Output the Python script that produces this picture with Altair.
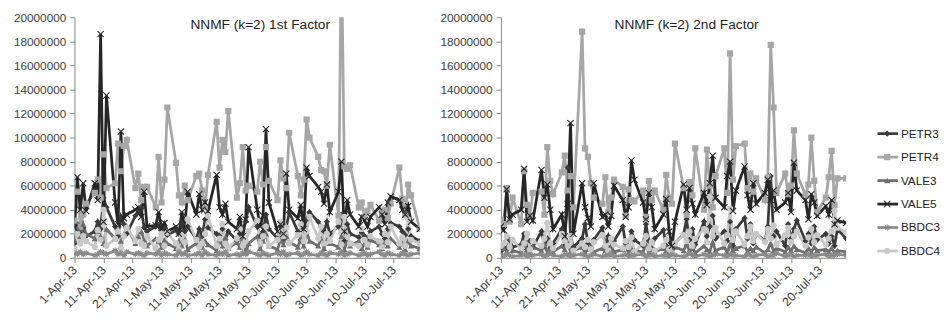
import altair as alt
import pandas as pd

SERIES = ["PETR3", "PETR4", "VALE3", "VALE5", "BBDC3", "BBDC4"]
COLORS = ["#3a3a3a", "#a6a6a6", "#6e6e6e", "#262626", "#8a8a8a", "#c8c8c8"]
X_PATH = "M-1,-1L1,1M-1,1L1,-1"
STAR_PATH = "M-1,0L1,0M0,-1L0,1M-0.7,-0.7L0.7,0.7M-0.7,0.7L0.7,-0.7"
SHAPES = ["diamond", "square", "triangle-up", X_PATH, STAR_PATH, "circle"]
FILLED = ["PETR3", "PETR4", "VALE3", "BBDC4"]
OPEN = ["VALE5", "BBDC3"]

# trading days 1-Apr-13 .. 29-Jul-13
DATES = pd.bdate_range("2013-04-01", "2013-07-29").strftime("%Y-%m-%dT00:00:00").tolist()
TICK_DAYS = [(4, 1), (4, 11), (4, 21), (5, 1), (5, 11), (5, 21), (5, 31),
             (6, 10), (6, 20), (6, 30), (7, 10), (7, 20)]
Y_TICKS = [0, 2000000, 4000000, 6000000, 8000000, 10000000, 12000000,
           14000000, 16000000, 18000000, 20000000]

# values in millions
f1_petr3 = [1.2, 2.8, 2.0, 2.5, 1.8, 2.2, 3.0, 2.4, 5.0, 4.2,
            2.6, 1.8, 3.4, 2.8, 2.0, 3.5, 3.8, 4.1, 2.5, 2.2,
            2.6, 2.7, 2.0, 2.5, 1.9, 2.3, 2.0, 2.8, 2.2, 2.6,
            1.6, 2.4, 1.8, 3.2, 2.5, 2.0, 1.8, 2.4, 1.5, 2.2,
            1.4, 2.0, 2.4, 3.0, 4.2, 2.6, 1.8, 2.2, 3.6, 2.4,
            1.6, 2.6, 1.6, 2.5, 3.8, 2.2, 1.5, 2.4, 3.2, 3.8,
            3.0, 2.6, 2.2, 3.0, 2.0, 2.6, 3.6, 1.4, 2.8, 2.0,
            1.7, 2.1, 1.8, 1.6, 2.2, 2.6, 2.0, 1.6, 2.4, 2.9,
            2.6, 2.2, 1.9, 2.4, 1.8, 1.4]
f1_petr4 = [3.1, 5.5, 2.6, 3.6, 4.5, 5.4, 6.5, 5.0, 8.6, 5.8,
            6.2, 9.5, 7.2, 9.3, 9.8, 5.8, 7.0, 4.8, 5.9, 5.9,
            4.2, 8.4, 4.6, 6.5, 12.5, 7.9, 5.2, 4.6, 6.0, 4.8,
            6.8, 7.0, 5.6, 4.2, 6.9, 11.3, 7.5, 9.8, 8.8, 12.2,
            5.0, 6.2, 9.2, 5.6, 6.0, 5.5, 8.0, 6.1, 9.2, 6.4,
            4.8, 8.1, 6.6, 5.8, 10.4, 6.8, 5.2, 6.5, 11.5, 10.0,
            8.4, 7.3, 7.2, 6.0, 9.4, 3.5, 26.0, 7.6, 7.4, 7.7,
            4.2, 4.6, 3.4, 3.9, 4.4, 3.1, 3.8, 4.0, 3.3, 4.5,
            7.5, 4.9, 3.6, 6.1, 5.2, 2.4]
f1_vale3 = [1.5, 2.4, 1.8, 2.8, 2.0, 1.6, 2.2, 1.8, 1.2, 2.4,
            1.6, 2.2, 1.4, 1.9, 2.6, 1.2, 1.8, 2.2, 1.5, 1.0,
            1.6, 1.4, 0.9, 1.5, 1.2, 0.8, 1.4, 1.0, 1.6, 0.7,
            1.2, 1.8, 0.9, 1.4, 1.1, 0.6, 1.5, 1.0, 1.7, 0.8,
            1.3, 0.9, 1.6, 0.4, 1.2, 1.8, 0.8, 1.4, 2.0, 1.0,
            0.7, 1.5, 1.1, 1.8, 1.3, 0.9, 1.6, 1.0, 2.2, 1.4,
            1.0, 1.6, 0.8, 1.5, 1.2, 0.9, 1.8, 0.7, 1.3, 1.0,
            1.4, 0.8, 1.2, 0.9, 1.5, 1.1, 0.8, 1.3, 1.0, 1.6,
            0.9, 1.2, 0.7, 1.4, 1.0, 0.8]
f1_vale5 = [2.5, 6.7, 4.0, 6.2, 3.9, 6.2, 4.8, 18.6, 3.0, 13.5,
            4.6, 2.8, 10.5, 3.3, 3.6, 4.0, 4.2, 3.4, 5.5, 2.6,
            2.7, 3.8, 2.5, 2.9, 2.2, 2.6, 2.0, 3.8, 2.5, 5.5,
            3.6, 5.3, 4.0, 4.6, 3.9, 6.9, 4.2, 3.6, 4.5, 3.0,
            2.4, 3.4, 1.8, 3.2, 9.2, 4.0, 2.6, 3.5, 10.7, 4.6,
            2.2, 2.8, 2.0, 7.0, 4.0, 3.3, 4.4, 2.4, 7.5, 6.8,
            5.9, 5.5, 4.5, 6.1, 3.8, 5.5, 8.0, 2.2, 4.8, 3.6,
            2.6, 3.4, 3.1, 2.6, 3.4, 4.2, 3.6, 2.8, 4.6, 5.1,
            4.8, 4.0, 3.6, 4.3, 3.0, 2.4]
f1_bbdc3 = [0.4, 0.3, 0.5, 0.3, 0.4, 0.2, 0.3, 0.5, 0.4, 0.3,
            0.6, 0.3, 0.4, 0.2, 0.5, 0.3, 0.4, 0.3, 0.2, 0.4,
            0.3, 0.5, 0.2, 0.4, 0.3, 0.2, 0.5, 0.3, 0.4, 0.2,
            0.3, 0.4, 0.2, 0.5, 0.3, 0.2, 0.4, 0.3, 0.5, 0.2,
            0.3, 0.2, 0.4, 0.3, 0.5, 0.3, 0.2, 0.4, 0.3, 0.2,
            0.4, 0.3, 0.5, 0.2, 0.3, 0.4, 0.2, 0.3, 0.5, 0.3,
            0.2, 0.4, 0.3, 0.2, 0.4, 0.3, 0.5, 0.2, 0.3, 0.4,
            0.2, 0.3, 0.4, 0.2, 0.3, 0.5, 0.3, 0.2, 0.4, 0.3,
            0.2, 0.4, 0.3, 0.2, 0.3, 0.4]
f1_bbdc4 = [0.8, 2.0, 1.2, 1.8, 1.4, 0.9, 2.3, 1.5, 4.0, 1.0,
            1.6, 2.2, 0.8, 1.8, 2.5, 1.4, 2.4, 1.2, 1.0, 1.8,
            0.8, 1.5, 2.0, 1.0, 2.1, 1.2, 0.7, 1.8, 1.3, 3.2,
            1.5, 0.9, 1.2, 2.0, 3.5, 1.0, 1.6, 2.8, 1.2, 0.8,
            1.6, 2.4, 1.0, 1.4, 2.2, 3.1, 1.2, 1.8, 2.6, 1.0,
            1.5, 3.0, 1.8, 2.5, 1.2, 1.9, 2.8, 1.4, 2.2, 3.4,
            1.6, 2.6, 1.2, 2.0, 1.4, 3.0, 1.1, 3.4, 1.8, 1.2,
            1.0, 2.4, 1.5, 1.1, 1.8, 1.4, 0.9, 2.0, 1.3, 2.6,
            1.2, 1.7, 1.0, 3.2, 1.5, 1.2]

f2_petr3 = [0.6, 1.2, 0.8, 1.5, 0.9, 1.1, 2.0, 0.7, 1.4, 0.9,
            2.2, 1.0, 1.6, 0.8, 1.2, 2.4, 1.0, 7.5, 1.8, 0.9,
            1.6, 2.8, 1.2, 0.8, 1.5, 2.5, 1.0, 1.8, 0.9, 1.4,
            2.6, 1.2, 0.8, 2.2, 1.5, 1.0, 2.8, 1.4, 0.8, 1.6,
            2.3, 1.0, 1.4, 0.7, 1.2, 2.0, 3.2, 1.5, 2.4, 1.1,
            3.0, 1.8, 2.6, 3.5, 1.6, 2.2, 1.4, 3.0, 1.0, 2.4,
            3.3, 1.6, 2.8, 1.2, 2.0, 1.4, 2.6, 6.8, 1.8, 2.2,
            1.0, 2.8, 1.6, 2.4, 3.1, 1.4, 2.0, 1.2, 2.6, 1.5,
            2.0, 1.2, 1.8, 1.0, 2.4, 1.6]
f2_petr4 = [3.2, 2.8, 5.8, 3.0, 5.0, 2.8, 7.2, 4.4, 3.5, 5.4,
            5.5, 3.6, 9.2, 6.4, 5.3, 7.1, 8.5, 5.6, 6.8, 4.2,
            18.8, 9.1, 8.4, 6.2, 5.0, 4.5, 6.7, 3.8, 5.0, 6.5,
            5.9, 3.5, 5.7, 4.8, 4.7, 5.6, 3.4, 6.4, 4.8, 5.6,
            4.0, 6.9, 5.0, 4.5, 9.5, 5.8, 3.6, 6.3, 5.2, 9.1,
            4.0, 9.0, 6.0, 4.2, 6.8, 9.1, 5.4, 17.0, 6.5, 9.3,
            9.5, 5.8, 7.0, 5.5, 6.6, 4.8, 6.7, 17.7, 12.5, 5.4,
            7.0, 5.3, 6.0, 10.6, 7.0, 5.2, 6.1, 10.0, 6.4, 3.8,
            5.0, 6.7, 8.9, 4.4, 6.6, 6.6]
f2_vale3 = [0.3, 0.8, 0.5, 1.0, 0.6, 0.4, 1.2, 0.7, 0.5, 0.9,
            0.6, 1.1, 0.4, 0.8, 0.5, 1.0, 0.7, 1.3, 0.5, 0.6,
            0.9, 0.4, 0.7, 1.0, 0.5, 0.8, 0.6, 0.3, 0.9, 0.5,
            0.7, 1.0, 0.4, 0.8, 0.6, 0.5, 1.1, 0.4, 0.7, 0.5,
            0.8, 0.6, 0.3, 0.5, 0.9, 0.6, 1.2, 0.5, 0.8, 0.4,
            1.0, 0.7, 0.5, 1.3, 0.6, 0.9, 0.4, 1.1, 0.6, 0.8,
            1.0, 0.5, 0.8, 0.6, 0.9, 0.4, 0.7, 1.2, 0.6, 0.8,
            0.5, 0.9, 0.6, 1.0, 0.7, 0.4, 0.8, 0.5, 0.9, 0.6,
            0.7, 0.5, 0.8, 0.4, 0.6, 0.5]
f2_vale5 = [2.6, 2.3, 5.7, 3.2, 3.6, 4.0, 7.4, 3.0, 3.5, 3.1,
            7.3, 5.0, 6.1, 4.0, 2.4, 3.6, 1.8, 4.5, 11.2, 2.0,
            6.2, 4.2, 3.3, 2.6, 6.2, 3.4, 3.6, 2.6, 3.5, 6.0,
            4.8, 3.4, 4.2, 8.1, 6.5, 4.6, 3.2, 5.4, 4.2, 2.4,
            3.6, 4.9, 2.2, 1.0, 3.0, 6.1, 4.0, 5.8, 4.5, 3.6,
            5.4, 4.4, 6.2, 8.5, 5.0, 4.2, 6.8, 8.0, 3.9, 5.6,
            7.6, 5.2, 4.0, 6.2, 4.5, 5.4, 6.5, 4.8, 5.6, 4.0,
            4.6, 5.4, 3.8, 7.9, 5.6, 4.8, 3.2, 5.3, 4.6, 3.5,
            4.3, 3.6, 4.8, 2.8, 3.1, 2.9]
f2_bbdc3 = [0.2, 0.1, 0.3, 0.2, 0.1, 0.2, 0.3, 0.1, 0.2, 0.2,
            0.3, 0.1, 0.2, 0.4, 0.2, 0.1, 0.3, 0.2, 0.1, 0.2,
            0.3, 0.2, 0.1, 0.2, 0.3, 0.1, 0.2, 0.2, 0.4, 0.1,
            0.2, 0.3, 0.1, 0.2, 0.2, 0.3, 0.1, 0.2, 0.3, 0.1,
            0.2, 0.2, 0.1, 0.3, 0.2, 0.1, 0.2, 0.4, 0.2, 0.1,
            0.3, 0.2, 0.1, 0.2, 0.3, 0.2, 0.1, 0.3, 0.2, 0.2,
            0.1, 0.3, 0.2, 0.1, 0.2, 0.3, 0.1, 0.2, 0.2, 0.4,
            0.1, 0.2, 0.3, 0.1, 0.2, 0.2, 0.3, 0.1, 0.2, 0.2,
            0.3, 0.1, 0.2, 0.2, 0.3, 0.2]
f2_bbdc4 = [1.0, 1.2, 1.8, 0.9, 1.5, 0.8, 1.2, 2.0, 0.7, 1.4,
            1.0, 1.6, 2.9, 1.2, 0.8, 2.0, 1.4, 1.0, 1.8, 0.6,
            1.2, 0.9, 1.5, 0.7, 1.3, 1.9, 1.0, 0.6, 1.6, 1.1,
            0.8, 1.4, 0.9, 1.7, 0.5, 1.2, 1.8, 0.8, 1.3, 0.6,
            1.0, 1.5, 0.7, 0.4, 1.2, 1.9, 1.4, 2.2, 1.0, 1.6,
            2.4, 1.3, 5.1, 1.8, 2.5, 1.2, 1.9, 4.1, 1.5, 2.2,
            1.1, 1.8, 2.6, 1.4, 2.0, 1.3, 2.4, 1.6, 2.7, 1.1,
            1.9, 2.5, 1.3, 1.8, 2.2, 1.0, 1.7, 2.4, 1.3, 1.9,
            1.1, 1.6, 2.2, 3.9, 2.5, 2.1]

FACTOR1 = [f1_petr3, f1_petr4, f1_vale3, f1_vale5, f1_bbdc3, f1_bbdc4]
FACTOR2 = [f2_petr3, f2_petr4, f2_vale3, f2_vale5, f2_bbdc3, f2_bbdc4]
TITLES = ["NNMF (k=2) 1st Factor", "NNMF (k=2) 2nd Factor"]

FONT = "Liberation Sans"
TXT = "#404040"
AX = "#868686"


def long_frame(block):
    rows = []
    for name, vals in zip(SERIES, block):
        for d, v in zip(DATES, vals):
            rows.append({"date": d, "series": name, "value": v * 1e6})
    return pd.DataFrame(rows)


def panel(block, title):
    df = long_frame(block)
    x = alt.X(
        "date:T",
        scale=alt.Scale(domain=[alt.DateTime(year=2013, month=4, date=1),
                                alt.DateTime(year=2013, month=7, date=29)]),
        axis=alt.Axis(
            values=[alt.DateTime(year=2013, month=m, date=d) for m, d in TICK_DAYS],
            tickCount=40,
            format="%-d-%b-%y", labelAngle=315, labelAlign="right",
            labelBaseline="middle", labelFont=FONT, labelFontSize=12.5,
            labelColor=TXT, domainColor=AX, tickColor=AX, tickSize=5,
            labelPadding=5, grid=False, title=None, labelOverlap=False,
            labelBound=False),
    )
    y = alt.Y(
        "value:Q",
        scale=alt.Scale(domain=[0, 20000000], nice=False),
        axis=alt.Axis(values=Y_TICKS, tickCount=40, format="d", labelFont=FONT,
                      labelFontSize=12, labelColor=TXT, domainColor=AX,
                      tickColor=AX, tickSize=5, labelPadding=4, grid=False,
                      title=None, labelOverlap=False),
    )
    color = alt.Color("series:N", scale=alt.Scale(domain=SERIES, range=COLORS),
                      legend=None)
    shape = alt.Shape("series:N", scale=alt.Scale(domain=SERIES, range=SHAPES),
                      legend=None)
    base = alt.Chart(df).encode(x=x, y=y, color=color)
    lines = base.mark_line(strokeWidth=2.8, clip=True)
    pts = base.transform_filter(
        alt.FieldOneOfPredicate(field="series", oneOf=FILLED)
    ).mark_point(filled=True, size=40, opacity=1, clip=True).encode(shape=shape)
    xpts = base.transform_filter(
        alt.FieldOneOfPredicate(field="series", oneOf=OPEN)
    ).mark_point(filled=False, size=40, opacity=1, strokeWidth=1.1,
                 clip=True).encode(shape=shape)
    ttl = alt.Chart(pd.DataFrame({"t": [title]})).mark_text(
        font=FONT, fontSize=14, color="#222222", baseline="middle"
    ).encode(
        x=alt.datum(alt.DateTime(year=2013, month=6, date=4)),
        y=alt.datum(19350000),
        text="t:N",
    )
    return alt.layer(lines, pts, xpts, ttl).properties(width=353, height=246)


leg_df = pd.DataFrame({"series": SERIES})
ly = alt.Y("series:N",
           scale=alt.Scale(type="point", domain=SERIES, range=[119, 239], padding=0),
           axis=None)
lcolor = alt.Color("series:N", scale=alt.Scale(domain=SERIES, range=COLORS), legend=None)
lshape = alt.Shape("series:N", scale=alt.Scale(domain=SERIES, range=SHAPES), legend=None)
lbase = alt.Chart(leg_df).encode(y=ly, color=lcolor)
leg_line = lbase.mark_rule(strokeWidth=2.8).encode(x=alt.value(12), x2=alt.value(33))
leg_pts = lbase.transform_filter(
    alt.FieldOneOfPredicate(field="series", oneOf=FILLED)
).mark_point(filled=True, size=40, opacity=1).encode(x=alt.value(22), shape=lshape)
leg_x = lbase.transform_filter(
    alt.FieldOneOfPredicate(field="series", oneOf=OPEN)
).mark_point(filled=False, size=40, opacity=1, strokeWidth=1.1).encode(
    x=alt.value(22), shape=lshape)
leg_txt = alt.Chart(leg_df).mark_text(
    align="left", baseline="middle", font=FONT, fontSize=12, color="#222222"
).encode(y=ly, x=alt.value(36), text="series:N")
legend = alt.layer(leg_line, leg_pts, leg_x, leg_txt).properties(width=62, height=246)

chart = alt.hconcat(
    panel(FACTOR1, TITLES[0]), panel(FACTOR2, TITLES[1]), legend, spacing=20
).properties(
    padding={"left": 5, "top": 0, "right": 0, "bottom": 0}
).configure_view(strokeWidth=0).configure_axis(labelOverlap=False)

chart.save("out.html", embed_options={"renderer": "svg", "actions": False})
